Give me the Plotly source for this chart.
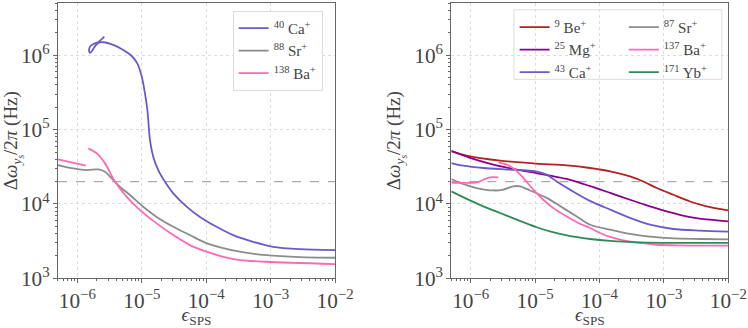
import plotly.graph_objects as go

# left panel: 40Ca+, 88Sr+, 138Ba+
ca40_x = [2.62e-6, 2.12e-6, 1.77e-6, 1.57e-6, 1.52e-6, 1.57e-6, 1.73e-6, 1.88e-6, 2.12e-6, 2.53e-6,
          3.61e-6, 5.16e-6, 6.97e-6, 8.51e-6, 1.0e-5, 1.12e-5, 1.22e-5, 1.26e-5, 1.34e-5, 1.51e-5,
          1.80e-5, 2.29e-5, 3.08e-5, 4.96e-5, 7.98e-5, 1.45e-4, 2.62e-4, 5.36e-4, 1.09e-3, 2.84e-3, 1e-2]
ca40_y = [1.78e6, 1.51e6, 1.42e6, 1.31e6, 1.15e6, 1.08e6, 1.18e6, 1.33e6, 1.47e6, 1.50e6,
          1.38e6, 1.18e6, 9.8e5, 7.8e5, 5.15e5, 3.08e5, 1.84e5, 1.35e5, 7.2e4, 4.3e4,
          2.86e4, 1.99e4, 1.39e4, 9.2e3, 6.7e3, 4.93e3, 3.81e3, 3.10e3, 2.65e3, 2.47e3, 2.40e3]

sr88_x = [5.0e-7, 8.67e-7, 1.40e-6, 2.12e-6, 2.69e-6, 3.41e-6, 4.59e-6, 6.56e-6, 1.05e-5, 1.70e-5,
          3.08e-5, 5.58e-5, 1.0e-4, 3.33e-4, 8.63e-4, 2.84e-3, 1e-2]
sr88_y = [3.34e4, 3.01e4, 2.86e4, 2.92e4, 2.71e4, 2.21e4, 1.70e4, 1.32e4, 9.2e3, 6.7e3,
          4.94e3, 3.82e3, 2.98e3, 2.28e3, 2.05e3, 1.93e3, 1.89e3]

ba138_x = [5.0e-7, 1.36e-6, None, 1.48e-6, 2.0e-6, 2.69e-6, 3.84e-6, 5.83e-6, 9.38e-6, 1.70e-5,
           3.08e-5, 5.58e-5, 1.01e-4, 1.84e-4, 3.33e-4, 8.63e-4, 1e-2]
ba138_y = [3.98e4, 3.27e4, None, 5.6e4, 4.8e4, 3.52e4, 1.99e4, 1.25e4, 8.28e3, 5.48e3,
           3.82e3, 2.80e3, 2.28e3, 1.95e3, 1.76e3, 1.67e3, 1.55e3]

# right panel
be9_x = [5.0e-7, 9.75e-7, 2.85e-6, 1.03e-5, 3.10e-5, 7.12e-5, 1.46e-4, 2.97e-4, 4.79e-4, 7.73e-4,
         1.40e-3, 2.54e-3, 4.62e-3, 1e-2]
be9_y = [5.1e4, 4.37e4, 3.83e4, 3.49e4, 3.31e4, 3.05e4, 2.75e4, 2.35e4, 2.01e4, 1.64e4,
         1.33e4, 1.08e4, 9.3e3, 8.2e3]

mg25_x = [5.0e-7, 9.75e-7, 2.24e-6, 5.18e-6, 1.03e-5, 1.70e-5, 3.10e-5, 7.12e-5, 1.46e-4, 2.97e-4,
          6.08e-4, 1.10e-3, 2.54e-3, 5.19e-3, 1e-2]
mg25_y = [5.2e4, 4.16e4, 3.38e4, 2.90e4, 2.61e4, 2.40e4, 2.17e4, 1.74e4, 1.41e4, 1.14e4,
          9.3e3, 7.95e3, 6.68e3, 6.15e3, 5.84e3]

ca43_x = [5.0e-7, 7.67e-7, 1.57e-6, 4.07e-6, 1.03e-5, 1.51e-5, 2.16e-5, 3.48e-5, 7.12e-5, 1.46e-4,
          2.97e-4, 6.08e-4, 1.40e-3, 3.63e-3, 1e-2]
ca43_y = [3.56e4, 3.28e4, 3.05e4, 2.90e4, 2.75e4, 2.48e4, 2.01e4, 1.56e4, 1.10e4, 8.4e3,
          6.5e3, 5.26e3, 4.61e3, 4.38e3, 4.24e3]

sr87_x = [5.0e-7, 6.82e-7, 1.24e-6, 2.24e-6, 3.21e-6, 4.58e-6, 5.83e-6, 8.34e-6, 1.51e-5, 2.74e-5,
          4.43e-5, 7.12e-5, 1.46e-4, 2.97e-4, 6.08e-4, 1.40e-3, 3.63e-3, 1e-2]
sr87_y = [2.17e4, 1.92e4, 1.64e4, 1.52e4, 1.56e4, 1.73e4, 1.73e4, 1.52e4, 1.21e4, 8.8e3,
          6.8e3, 5.26e3, 4.51e3, 3.95e3, 3.63e3, 3.44e3, 3.38e3, 3.34e3]

ba137_x = [5.0e-7, 7.67e-7, 1.24e-6, 1.57e-6, 2.0e-6, 2.69e-6, None,
           2.69e-6, 3.62e-6, 4.88e-6, 6.56e-6, 9.38e-6, 1.34e-5, 1.92e-5, 3.10e-5, 4.98e-5, 7.12e-5,
           1.02e-4, 1.46e-4, 2.34e-4, 4.26e-4, 7.73e-4, 1.58e-3, 3.63e-3, 1e-2]
ba137_y = [1.92e4, 1.92e4, 1.95e4, 2.12e4, 2.28e4, 2.28e4, None,
           3.63e4, 3.38e4, 2.90e4, 2.24e4, 1.56e4, 1.14e4, 8.8e3, 6.8e3, 5.43e3, 4.75e3,
           4.07e3, 3.60e3, 3.24e3, 2.99e3, 2.83e3, 2.77e3, 2.75e3, 2.75e3]

yb171_x = [5.0e-7, 8.67e-7, 1.57e-6, 2.85e-6, 5.18e-6, 1.03e-5, 1.70e-5, 3.10e-5, 7.12e-5, 1.46e-4,
           4.26e-4, 1.40e-3, 1e-2]
yb171_y = [1.48e4, 1.17e4, 9.3e3, 7.57e3, 6.15e3, 4.90e3, 4.28e3, 3.78e3, 3.38e3, 3.18e3,
           3.04e3, 2.99e3, 2.99e3]

threshold_x = [5e-7, 1e-2]
threshold_y = [2e4, 2e4]

FONT = "Liberation Serif"
TXT = "#444444"
fig = go.Figure()

def add_line(x, y, name, color, xa, ya, legend):
    fig.add_trace(go.Scatter(x=x, y=y, mode="lines", name=name, xaxis=xa, yaxis=ya,
                             line=dict(color=color, width=1.8, shape="spline", smoothing=0.8),
                             legend=legend, connectgaps=False))

for xa, ya in [("x", "y"), ("x2", "y2")]:
    fig.add_trace(go.Scatter(x=threshold_x, y=threshold_y, mode="lines", xaxis=xa, yaxis=ya,
                             line=dict(color="#aaaaaa", width=1.4, dash="dash"), showlegend=False))

add_line(ca40_x, ca40_y, "<sup>40</sup> Ca<sup>+</sup>", "#6a5acd", "x", "y", "legend")
add_line(sr88_x, sr88_y, "<sup>88</sup> Sr<sup>+</sup>", "#8c8c8c", "x", "y", "legend")
add_line(ba138_x, ba138_y, "<sup>138</sup> Ba<sup>+</sup>", "#ff69b4", "x", "y", "legend")

add_line(be9_x, be9_y, "<sup>9</sup> Be<sup>+</sup>", "#b22222", "x2", "y2", "legend2")
add_line(mg25_x, mg25_y, "<sup>25</sup> Mg<sup>+</sup>", "#8b008b", "x2", "y2", "legend2")
add_line(ca43_x, ca43_y, "<sup>43</sup> Ca<sup>+</sup>", "#6a5acd", "x2", "y2", "legend2")
add_line(sr87_x, sr87_y, "<sup>87</sup> Sr<sup>+</sup>", "#8c8c8c", "x2", "y2", "legend3")
add_line(ba137_x, ba137_y, "<sup>137</sup> Ba<sup>+</sup>", "#ff69b4", "x2", "y2", "legend3")
add_line(yb171_x, yb171_y, "<sup>171</sup> Yb<sup>+</sup>", "#2e8b57", "x2", "y2", "legend3")

axis_common = dict(type="log", showline=True, mirror=True, linecolor="#666666", linewidth=1,
                   showgrid=True, gridcolor="#dddddd", griddash="dot", gridwidth=1,
                   ticks="outside", ticklen=4, tickcolor="#666666", zeroline=False,
                   exponentformat="power", dtick=1,
                   tickfont=dict(family=FONT, size=17, color=TXT),
                   minor=dict(ticks="outside", ticklen=2, tickcolor="#666666", showgrid=False),
                   automargin=False)

xtitle = dict(text="<i>ϵ</i><sub>SPS</sub>", font=dict(family=FONT, size=19, color=TXT), standoff=4)
ytitle = dict(text="Δ<i>ω</i><sub><i>y<sub>s</sub></i></sub>/2<i>π</i> (Hz)",
              font=dict(family=FONT, size=19, color=TXT), standoff=8)
leg_font = dict(family=FONT, size=15, color=TXT)

fig.update_layout(
    width=748, height=328,
    margin=dict(l=0, r=0, t=0, b=0),
    paper_bgcolor="white", plot_bgcolor="white",
    font=dict(family=FONT, color=TXT),
    xaxis=dict(axis_common, domain=[0.0775, 0.448], range=[-6.301, -2], title=xtitle, anchor="y"),
    yaxis=dict(axis_common, domain=[0.1515, 0.991], range=[3, 6.705], title=ytitle, anchor="x"),
    xaxis2=dict(axis_common, domain=[0.6034, 0.9737], range=[-6.301, -2], title=xtitle, anchor="y2"),
    yaxis2=dict(axis_common, domain=[0.1515, 0.991], range=[3, 6.705], title=ytitle, anchor="x2"),
    legend=dict(x=0.311, y=0.967, xanchor="left", yanchor="top", bgcolor="white",
                bordercolor="#dddddd", borderwidth=1, font=leg_font, tracegroupgap=0),
    legend2=dict(x=0.688, y=0.967, xanchor="left", yanchor="top", bgcolor="rgba(0,0,0,0)",
                 font=leg_font),
    legend3=dict(x=0.834, y=0.967, xanchor="left", yanchor="top", bgcolor="rgba(0,0,0,0)",
                 font=leg_font),
    shapes=[dict(type="rect", xref="paper", yref="paper", x0=0.687, x1=0.965, y0=0.758, y1=0.970,
                 line=dict(color="#dddddd", width=1), fillcolor="white", layer="below")],
)

fig.write_html("out.html", config={"displayModeBar": False},
               post_script="document.body.style.margin='0';")
